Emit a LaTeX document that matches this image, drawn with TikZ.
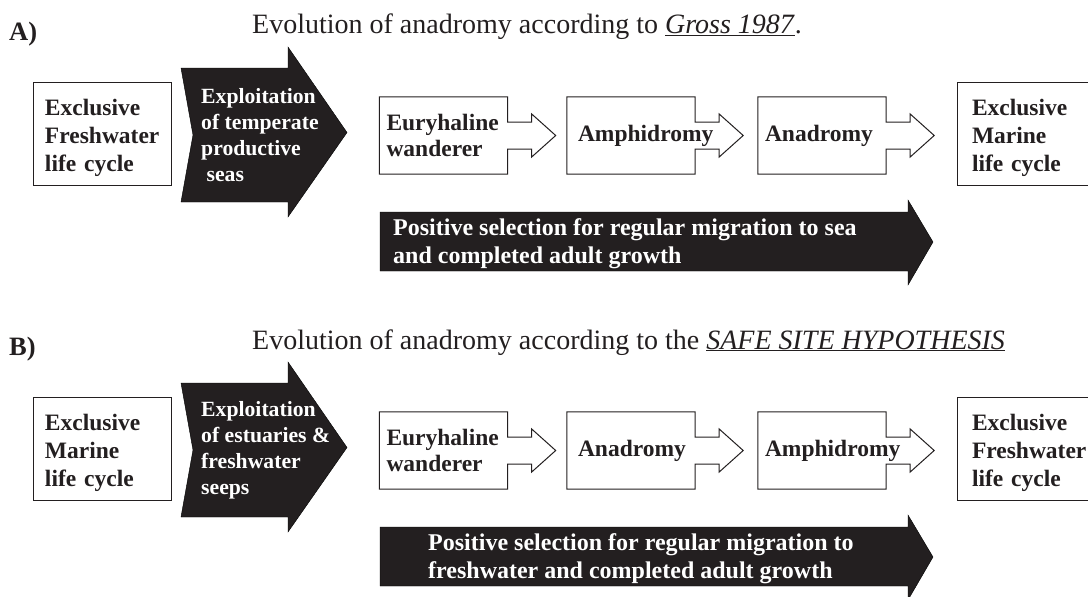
\documentclass[tikz,border=0pt]{standalone}
\usepackage{fontspec}
\setmainfont{Liberation Serif}
\usetikzlibrary{calc}

\definecolor{ink}{RGB}{35,31,32}

\begin{document}
\begin{tikzpicture}[x=1pt,y=-1pt,
  outline/.style={draw=ink,line width=1pt},
  lifebox/.style={outline,minimum width=138pt,minimum height=103pt,inner xsep=12pt,
    text width=114pt,text height=24pt,text depth=61pt,align=left,text=ink,
    font=\fontsize{23.5}{28}\selectfont\bfseries},
  stage/.style={minimum width=128pt,minimum height=77pt,inner xsep=7pt,
    text width=114pt,align=left,text=ink,font=\fontsize{23.5}{26.5}\selectfont\bfseries},
  midstage/.style={stage,inner xsep=11pt,text width=106pt},
  blackarrow/.style={fill=ink},
  arrowtext/.style={anchor=west,align=left,text=white,inner sep=0pt,
    font=\fontsize{21.7}{26}\selectfont\bfseries},
  selecttext/.style={anchor=west,align=left,text=white,inner sep=0pt,
    font=\fontsize{24}{28.5}\selectfont\bfseries},
  title/.style={anchor=base west,inner sep=0pt,text=ink,font=\fontsize{28}{32}\selectfont},
  panel/.style={anchor=base west,inner sep=0pt,text=ink,font=\fontsize{26.5}{30}\selectfont\bfseries}]

  % page
  \clip (0,0) rectangle (1088,597);
  \fill[white] (0,0) rectangle (1088,597);

  % ---------- panel A ----------
  \node[panel] (labA) at (9,40) {A)};
  \node[title] (titleA) at (252,34) {Evolution of anadromy according to \underline{\textit{Gross 1987}}.};

  \node[lifebox] (startA) at (102,133.5) {Exclusive\\Freshwater\\life cycle};
  \node[lifebox,inner xsep=15pt,text width=108pt] (endA) at (1026,133.5) {Exclusive\\Marine\\life cycle};

  % big black arrow
  \draw[blackarrow] (181,68) -- (288,68) -- (288,47) -- (347,132.5) -- (288,217)
    -- (288,202) -- (181,202) -- (193,135) -- cycle;
  \node[arrowtext] (exploitA) at (201,135)
    {Exploitation\\of temperate\\productive\\\hspace*{.25em}seas};

  % stages with their open arrows
  \node[stage] (eurA) at (443.5,135.5) {Euryhaline\\wanderer};
  \node[midstage] (amphA) at (631,135.5) {Amphidromy};
  \node[stage] (anaA) at (822,135.5) {Anadromy};

  % selection arrow
  \draw[blackarrow] (380,212) -- (908,212) -- (908,200) -- (933,242) -- (908,285)
    -- (908,271) -- (380,271) -- cycle;
  \node[selecttext] (selectA) at (393,243.5)
    {Positive selection for regular migration to sea\\and completed adult growth};

  % ---------- panel B ----------
  \begin{scope}[yshift=-315pt]
  \node[panel] (labB) at (9,40) {B)};
  \node[title] (titleB) at (252,34) {Evolution of anadromy according to the \underline{\textit{SAFE SITE HYPOTHESIS}}};

  \node[lifebox] (startB) at (102,133.5) {Exclusive\\Marine\\life cycle};
  \node[lifebox,inner xsep=15pt,text width=108pt] (endB) at (1026,133.5) {Exclusive\\Freshwater\\life cycle};

  % big black arrow
  \draw[blackarrow] (181,68) -- (288,68) -- (288,47) -- (347,132.5) -- (288,217)
    -- (288,202) -- (181,202) -- (193,135) -- cycle;
  \node[arrowtext] (exploitB) at (201,135)
    {Exploitation\\of estuaries \&\\freshwater\\seeps};

  % stages with their open arrows
  \node[stage] (eurB) at (443.5,135.5) {Euryhaline\\wanderer};
  \node[midstage] (anaB) at (631,135.5) {Anadromy};
  \node[stage] (amphB) at (822,135.5) {Amphidromy};

  % selection arrow
  \draw[blackarrow] (380,212) -- (908,212) -- (908,200) -- (933,242) -- (908,285)
    -- (908,271) -- (380,271) -- cycle;
  \node[selecttext] (selectB) at (428,243.5)
    {Positive selection for regular migration to\\freshwater and completed adult growth};
  \end{scope}

  % outlines of the stage boxes, each with its open arrow
  \foreach \s in {eurA,amphA,anaA,eurB,anaB,amphB}
    \draw[outline] (\s.north west) -- (\s.north east) -- ([yshift=13.5pt]\s.east)
      -- ++(24,0) -- ++(0,-8) -- ([xshift=48pt]\s.east) -- ++(-24,21.5) -- ++(0,-8)
      -- ([yshift=-13.5pt]\s.east) -- (\s.south east) -- (\s.south west) -- cycle;
\end{tikzpicture}
\end{document}
